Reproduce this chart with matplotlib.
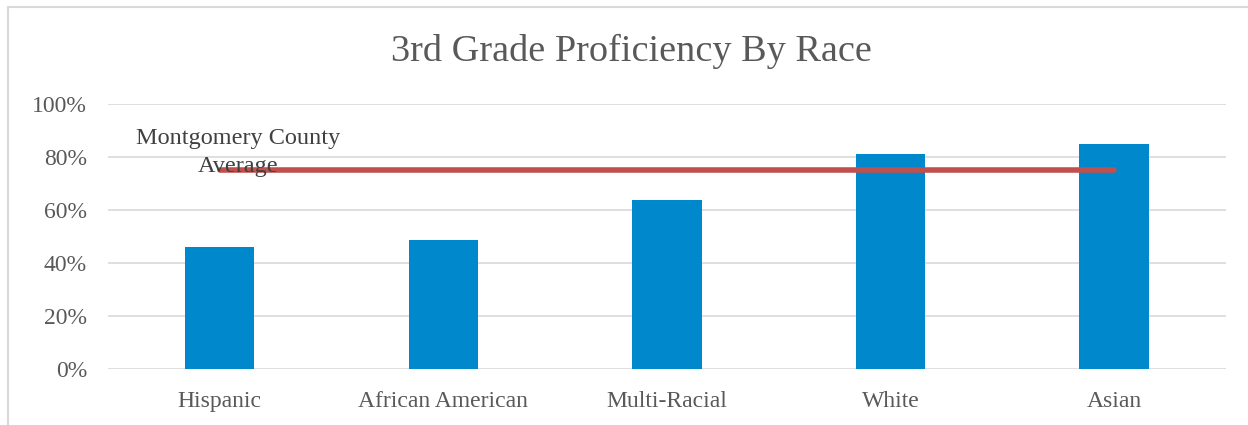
import numpy as np
import matplotlib
matplotlib.use("Agg")
import matplotlib.pyplot as plt
from matplotlib.patches import Rectangle
from matplotlib.ticker import FuncFormatter

# data
groups = ["Hispanic", "African American", "Multi-Racial", "White", "Asian"]
proficiency = [46.0, 48.7, 63.8, 81.1, 84.9]
county_avg = 75.0
yticks = [0, 20, 40, 60, 80, 100]

plt.rcParams['font.family'] = ['Liberation Serif', 'DejaVu Serif']
grey = "#595959"

fig = plt.figure(figsize=(12.48, 4.25), dpi=100)
ax = fig.add_axes([0.0865, 0.1318, 0.8958, 0.6235])

x = np.arange(len(groups))
ax.bar(x, proficiency, width=0.31, color="#0088CC", zorder=2)
ax.plot([x[0], x[-1]], [county_avg, county_avg], color="#C0504D",
        linewidth=4, solid_capstyle="round", zorder=3)
ax.text(x[0] + 0.08, county_avg - 2.5, "Montgomery County\nAverage",
        ha="center", va="bottom", fontsize=17.5, color="#404040",
        linespacing=1.4, zorder=4)

ax.set_xlim(-0.5, len(groups) - 0.5)
ax.set_ylim(0, 100)
ax.set_yticks(yticks)
ax.yaxis.set_major_formatter(FuncFormatter(lambda v, p: f"{v:.0f}%"))
ax.set_xticks(x)
ax.set_xticklabels(groups)
ax.tick_params(axis="both", length=0, labelsize=17, colors=grey)
ax.tick_params(axis="x", pad=16)
ax.tick_params(axis="y", pad=15)
ax.grid(axis="y", color="#D9D9D9", linewidth=1.2, zorder=0)
for s in ax.spines.values():
    s.set_visible(False)

fig.text(0.506, 0.878, "3rd Grade Proficiency By Race", ha="center",
         va="center", fontsize=27.5, color=grey)

# chart area border
fig.patches.append(Rectangle((8 / 1248, -0.05), 1.1, 1 - 7 / 425 + 0.05,
                             transform=fig.transFigure, fill=False,
                             edgecolor="#D9D9D9", linewidth=1.5))

fig.savefig("out.png", dpi=100)
